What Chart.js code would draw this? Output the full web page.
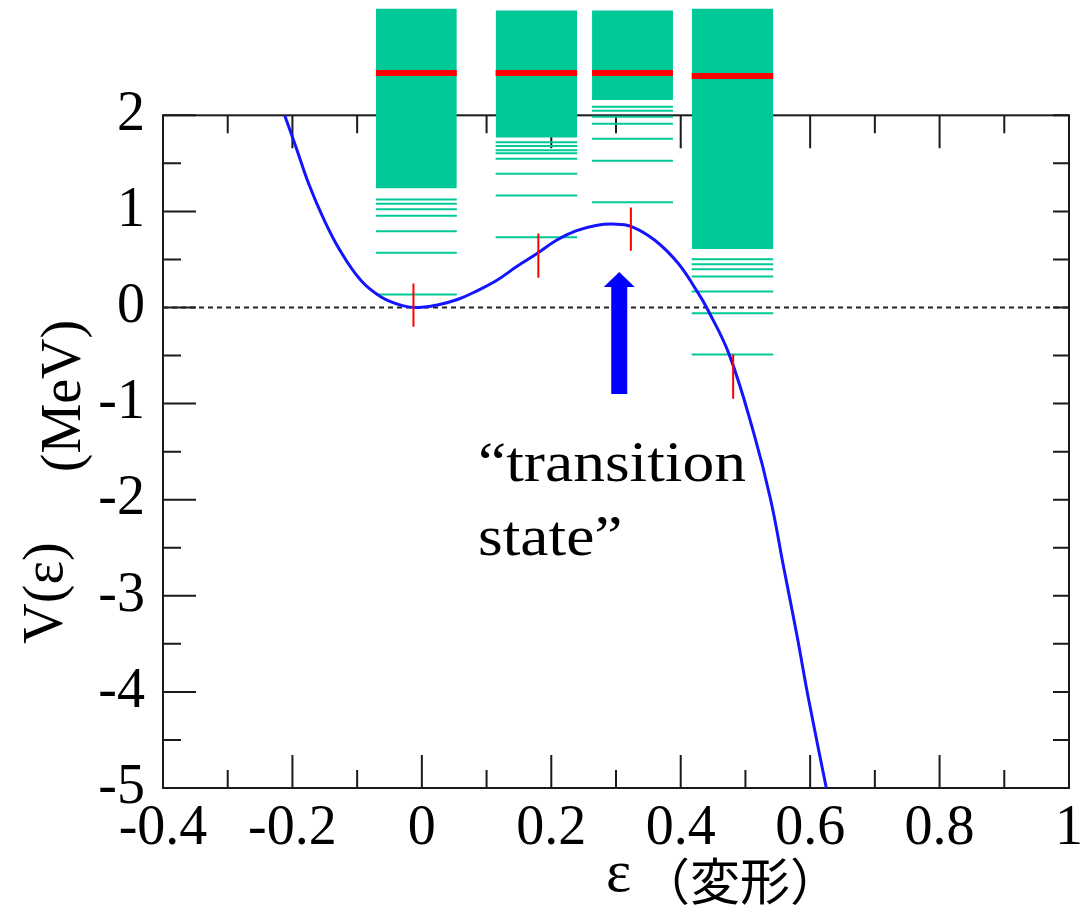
<!DOCTYPE html>
<html>
<head>
<meta charset="utf-8">
<script src="https://cdn.jsdelivr.net/npm/chart.js@4.4.0/dist/chart.umd.min.js"></script>
<style>
  body { margin: 0; background: #fff; }
  #wrap { width: 1091px; height: 911px; }
</style>
</head>
<body>
<div id="wrap"><canvas id="potChart"></canvas></div>
<script>
// potential V(eps) in MeV
const curveEps = [-0.212, -0.193, -0.175, -0.153, -0.127, -0.094, -0.063, -0.03, -0.005, 0.024, 0.055, 0.085, 0.116, 0.146, 0.178, 0.208, 0.238, 0.269, 0.295, 0.323, 0.36, 0.396, 0.427, 0.44, 0.475, 0.513, 0.539, 0.559, 0.579, 0.598, 0.625];
const curveV = [2.0, 1.64, 1.29, 0.94, 0.60, 0.28, 0.11, 0.02, 0, 0.027, 0.083, 0.173, 0.284, 0.423, 0.562, 0.70, 0.797, 0.853, 0.868, 0.845, 0.70, 0.46, 0.15, 0, -0.49, -1.31, -2.0, -2.70, -3.39, -4.09, -5.0];

const xTicks = [-0.4, -0.2, 0, 0.2, 0.4, 0.6, 0.8, 1];
const xMinor = [-0.3, -0.1, 0.1, 0.3, 0.5, 0.7, 0.9];
const yTicks = [-5, -4, -3, -2, -1, 0, 1, 2];
const yMinor = [-4.5, -3.5, -2.5, -1.5, -0.5, 0.5, 1.5];

// level schemes at four deformations
const colLeft = [-0.071, 0.114, 0.263, 0.417];
const colRight = [0.054, 0.24, 0.388, 0.543];
const boxTop = [3.11, 3.09, 3.09, 3.11];
const boxBottom = [1.24, 1.77, 2.16, 0.61];
const redLevel = [2.44, 2.44, 2.44, 2.41];
const levels = [
    [1.124, 1.079, 1.023, 0.954, 0.794, 0.569, 0.135],
    [1.72, 1.68, 1.637, 1.606, 1.547, 1.391, 1.165, 0.732],
    [2.09, 2.047, 1.984, 1.912, 1.756, 1.527, 1.096],
    [0.503, 0.451, 0.399, 0.323, 0.167, -0.059, -0.49]
];
const markerEps = [-0.013, 0.18, 0.323, 0.481];
const markerTop = [0.25, 0.77, 1.04, -0.49];
const markerBottom = [-0.2, 0.31, 0.59, -0.95];

// arrow pointing at the barrier
const arrowEps = 0.305;
const arrowTip = 0.37;
const arrowNeck = 0.214;
const arrowBase = -0.9;

const green = '#00c997';
const serif = '"Liberation Serif", "Times New Roman", serif';

const datasets = [];

datasets.push({
    data: curveEps.map((e, i) => ({x: e, y: curveV[i]})),
    borderColor: '#1414ff',
    borderWidth: 3,
    tension: 0.4,
    order: 2
});

const marks = [];
markerEps.forEach((e, i) => {
    marks.push({x: e, y: markerTop[i]}, {x: e, y: markerBottom[i]}, {x: e, y: null});
});
datasets.push({data: marks, borderColor: '#ff0000', borderWidth: 2, order: 1});

datasets.push({
    data: [{x: -0.4, y: 0}, {x: 1, y: 0}],
    borderColor: '#222',
    borderWidth: 2,
    borderDash: [5, 4],
    order: 9
});

colLeft.forEach((l, i) => {
    const r = colRight[i];
    datasets.push({
        data: [{x: l, y: boxBottom[i]}, {x: r, y: boxBottom[i]}],
        borderColor: green,
        borderWidth: 0,
        backgroundColor: green,
        fill: {value: boxTop[i]},
        order: 6
    });
    datasets.push({
        data: [{x: l, y: redLevel[i]}, {x: r, y: redLevel[i]}],
        borderColor: '#ff0000',
        borderWidth: 6,
        order: 5
    });
    const pts = [];
    levels[i].forEach(v => pts.push({x: l, y: v}, {x: r, y: v}, {x: r, y: null}));
    datasets.push({data: pts, borderColor: green, borderWidth: 2, order: 4});
});

const frame = {
    id: 'frame',
    beforeDatasetsDraw(chart) {
        const {ctx, scales: {x, y}} = chart;
        const L = x.getPixelForValue(-0.4), R = x.getPixelForValue(1);
        const T = y.getPixelForValue(2), B = y.getPixelForValue(-5);
        ctx.save();
        ctx.strokeStyle = '#1a1a1a';
        ctx.lineWidth = 2;
        ctx.strokeRect(L, T, R - L, B - T);
        ctx.beginPath();
        xTicks.forEach(v => {
            const p = x.getPixelForValue(v);
            ctx.moveTo(p, B); ctx.lineTo(p, B - 33);
            ctx.moveTo(p, T); ctx.lineTo(p, T + 33);
        });
        xMinor.forEach(v => {
            const p = x.getPixelForValue(v);
            ctx.moveTo(p, B); ctx.lineTo(p, B - 18);
            ctx.moveTo(p, T); ctx.lineTo(p, T + 18);
        });
        yTicks.forEach(v => {
            const p = y.getPixelForValue(v);
            ctx.moveTo(L, p); ctx.lineTo(L + 33, p);
            ctx.moveTo(R, p); ctx.lineTo(R - 16, p);
        });
        yMinor.forEach(v => {
            const p = y.getPixelForValue(v);
            ctx.moveTo(L, p); ctx.lineTo(L + 18, p);
            ctx.moveTo(R, p); ctx.lineTo(R - 16, p);
        });
        ctx.stroke();
        ctx.restore();
    }
};

const notes = {
    id: 'notes',
    afterDatasetsDraw(chart) {
        const {ctx, scales: {x, y}} = chart;
        ctx.save();
        // arrow
        const ax = x.getPixelForValue(arrowEps);
        const tip = y.getPixelForValue(arrowTip);
        const neck = y.getPixelForValue(arrowNeck);
        const base = y.getPixelForValue(arrowBase);
        ctx.fillStyle = '#0000ff';
        ctx.beginPath();
        ctx.moveTo(ax - 8, base);
        ctx.lineTo(ax - 8, neck);
        ctx.lineTo(ax - 15.5, neck);
        ctx.lineTo(ax, tip);
        ctx.lineTo(ax + 15.5, neck);
        ctx.lineTo(ax + 8, neck);
        ctx.lineTo(ax + 8, base);
        ctx.closePath();
        ctx.fill();

        // "transition state"
        ctx.fillStyle = '#000';
        ctx.font = '58px ' + serif;
        ctx.textBaseline = 'alphabetic';
        ctx.textAlign = 'left';
        const sx = 268 / ctx.measureText('\u201ctransition').width;
        ctx.save();
        ctx.translate(478, 481);
        ctx.scale(sx, 1);
        ctx.fillText('\u201ctransition', 0, 0);
        ctx.fillText('state\u201d', 0, 74);
        ctx.restore();

        // axis titles
        ctx.font = '60px ' + serif;
        ctx.fillText('\u03b5', 606, 891);
        ctx.font = '50px "Noto Sans CJK JP", "Noto Sans CJK SC", sans-serif';
        ctx.fillText('\uff08\u5909\u5f62\uff09', 640, 900);

        ctx.font = '56px ' + serif;
        ctx.textAlign = 'center';
        ctx.save();
        ctx.translate(62, 593);
        ctx.rotate(-Math.PI / 2);
        ctx.fillText('V(\u03b5)', 0, 0);
        ctx.restore();
        ctx.save();
        ctx.translate(80, 396);
        ctx.rotate(-Math.PI / 2);
        ctx.fillText('(MeV)', 0, 0);
        ctx.restore();
        ctx.restore();
    }
};

new Chart(document.getElementById('potChart'), {
    type: 'line',
    data: {datasets: datasets},
    options: {
        responsive: true,
        maintainAspectRatio: false,
        animation: false,
        layout: {padding: {left: 0, right: 13, top: 0, bottom: 0}},
        elements: {point: {radius: 0}, line: {tension: 0}},
        plugins: {legend: {display: false}, tooltip: {enabled: false}},
        scales: {
            x: {
                type: 'linear',
                min: -0.4,
                max: 1,
                grid: {display: false, drawTicks: false},
                border: {display: false},
                afterBuildTicks: s => { s.ticks = xTicks.map(v => ({value: v})); },
                afterFit: s => { s.height = 123; },
                ticks: {
                    color: '#000',
                    padding: 8,
                    maxRotation: 0,
                    autoSkip: false,
                    font: {family: serif, size: 56},
                    callback: v => String(v)
                }
            },
            y: {
                type: 'linear',
                min: -5,
                max: 3.2,
                grid: {display: false, drawTicks: false},
                border: {display: false},
                afterBuildTicks: s => { s.ticks = yTicks.map(v => ({value: v})); },
                afterFit: s => { s.width = 163; s.paddingTop = 0; s.paddingBottom = 0; },
                ticks: {
                    color: '#000',
                    padding: 18,
                    autoSkip: false,
                    font: {family: serif, size: 56},
                    callback: v => String(v)
                }
            }
        }
    },
    plugins: [frame, notes]
});
</script>
</body>
</html>
